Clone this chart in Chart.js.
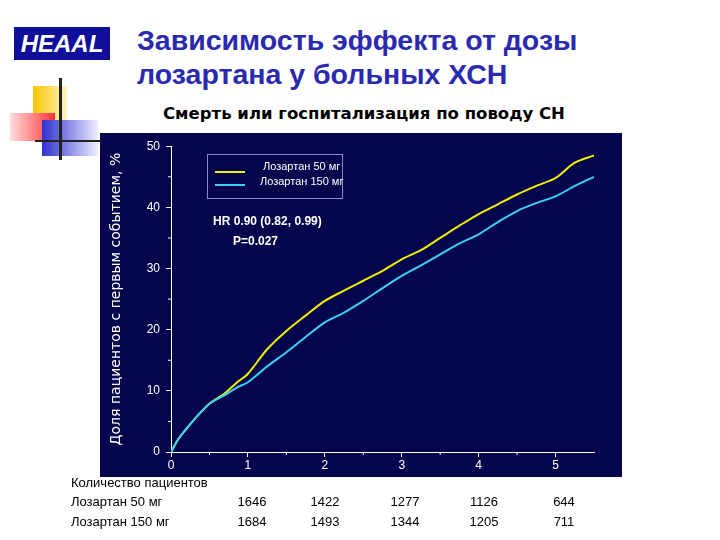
<!DOCTYPE html>
<html lang="ru">
<head>
<meta charset="UTF-8">
<title>HEAAL</title>
<script src="https://cdn.jsdelivr.net/npm/chart.js@4"></script>
<style>
  body { margin:0; width:720px; height:540px; position:relative; background:#fff; font-family:"Liberation Sans", Arial, sans-serif; overflow:hidden; }
  .abs { position:absolute; }
  #logo { left:14px; top:27px; width:96px; height:33px; background:#0f0f9a; color:#fff; font:italic bold 24px "Liberation Sans"; text-align:center; line-height:33px; }
  #title { left:137px; top:23px; color:#2a2ab0; font:bold 28.5px "Liberation Sans"; line-height:34px; }
  #sub { left:163px; top:104px; font:bold 16.5px "DejaVu Sans"; color:#000; white-space:nowrap; }
  #box { left:100px; top:133px; width:522px; height:344px; }
  .t { font-size:13px; color:#000; }
</style>
</head>
<body>
<div id="logo" class="abs">HEAAL</div>
<div id="title" class="abs">Зависимость эффекта от дозы<br>лозартана у больных ХСН</div>
<div class="abs" style="left:33px;top:86px;width:34px;height:44px;background:linear-gradient(90deg,#f7c600,#fff4c0)"></div>
<div class="abs" style="left:10px;top:113px;width:45px;height:28px;background:linear-gradient(270deg,#f33,#fdd)"></div>
<div class="abs" style="left:42px;top:120px;width:56px;height:36px;background:linear-gradient(90deg,#3030d0,#eef)"></div>
<div class="abs" style="left:59px;top:78px;width:3px;height:82px;background:#222"></div>
<div class="abs" style="left:35px;top:140px;width:65px;height:2px;background:#222"></div>
<div id="sub" class="abs">Смерть или госпитализация по поводу СН</div>
<div id="box" class="abs"><canvas id="c" width="522" height="344"></canvas></div>
<div class="abs t" style="left:71px;top:475px">Количество пациентов</div>
<div id="rows"></div>
<script>
const years = [0, 0.1, 0.2, 0.35, 0.5, 0.7, 0.85, 1.0, 1.25, 1.5, 1.75, 2.0, 2.25, 2.5, 2.75, 3.0, 3.25, 3.5, 3.75, 4.0, 4.25, 4.5, 4.75, 5.0, 5.25, 5.5];
const los50 = [0, 2.2, 3.8, 6.0, 7.9, 9.6, 11.3, 12.8, 16.8, 19.8, 22.3, 24.7, 26.4, 28.0, 29.6, 31.5, 33.0, 35.0, 37.0, 38.9, 40.5, 42.1, 43.5, 44.8, 47.3, 48.5];
const los150 = [0, 2.2, 3.8, 6.0, 7.9, 9.3, 10.5, 11.4, 14.0, 16.3, 18.8, 21.2, 22.8, 24.7, 26.8, 28.8, 30.5, 32.3, 34.1, 35.6, 37.6, 39.4, 40.7, 41.8, 43.5, 45.0];
const yTicks = [0, 10, 20, 30, 40, 50];
const nLabels = ['Лозартан 50 мг', 'Лозартан 150 мг'];
const atRisk50 = [1646, 1422, 1277, 1126, 644];
const atRisk150 = [1684, 1493, 1344, 1205, 711];
const riskCols = [252, 325, 405, 484, 564];

let html = '';
[[nLabels[0], atRisk50, 494], [nLabels[1], atRisk150, 514]].forEach(([name, vals, top]) => {
  html += `<div class="abs t" style="left:71px;top:${top}px">${name}</div>`;
  vals.forEach((v, i) => { html += `<div class="abs t" style="left:${riskCols[i]-20}px;width:40px;text-align:center;top:${top}px">${v}</div>`; });
});
document.getElementById('rows').innerHTML = html;

const navy = '#05054d';
const deco = {
  id: 'deco',
  beforeDraw(chart) {
    const c = chart.ctx;
    c.save(); c.fillStyle = navy; c.fillRect(0, 0, chart.width, chart.height); c.restore();
  },
  afterDraw(chart) {
    const c = chart.ctx, x = chart.scales.x, y = chart.scales.y;
    c.save();
    c.strokeStyle = '#fff'; c.lineWidth = 1;
    [0.5, 1.5, 2.5, 3.5, 4.5].forEach(v => { const p = x.getPixelForValue(v); c.beginPath(); c.moveTo(p, y.bottom); c.lineTo(p, y.bottom + 3); c.stroke(); });
    [5, 15, 25, 35, 45].forEach(v => { const p = y.getPixelForValue(v); c.beginPath(); c.moveTo(x.left, p); c.lineTo(x.left - 3, p); c.stroke(); });
    c.strokeStyle = '#8a8ac8'; c.strokeRect(107.5, 21.5, 135, 44);
    c.lineWidth = 2;
    c.strokeStyle = '#f0f000'; c.beginPath(); c.moveTo(115, 39); c.lineTo(145, 39); c.stroke();
    c.strokeStyle = '#38d0f8'; c.beginPath(); c.moveTo(115, 52); c.lineTo(145, 52); c.stroke();
    c.fillStyle = '#fff'; c.font = '11px "Liberation Sans"'; c.textBaseline = 'middle';
    c.fillText(nLabels[0], 163, 34); c.fillText(nLabels[1], 160, 49);
    c.font = 'bold 12px "Liberation Sans"';
    c.fillText('HR 0.90 (0.82, 0.99)', 113, 89);
    c.fillText('P=0.027', 133, 109);
    c.restore();
  }
};

new Chart(document.getElementById('c'), {
  type: 'line',
  data: {
    labels: years,
    datasets: [
      { label: nLabels[1], data: years.map((t, i) => ({ x: t, y: los150[i] })), borderColor: '#38d0f8', borderWidth: 2, pointRadius: 0, tension: 0.3 },
      { label: nLabels[0], data: years.map((t, i) => ({ x: t, y: los50[i] })), borderColor: '#f0f000', borderWidth: 2, pointRadius: 0, tension: 0.3 }
    ]
  },
  options: {
    responsive: false, animation: false,
    layout: { padding: { top: 12, right: 28, left: 8, bottom: 0 } },
    plugins: { legend: { display: false }, tooltip: { enabled: false } },
    scales: {
      x: {
        type: 'linear', min: 0, max: 5.5,
        afterFit: s => { s.height = 25; },
        afterBuildTicks: s => { s.ticks = [0, 1, 2, 3, 4, 5].map(v => ({ value: v })); },
        grid: { drawOnChartArea: false, color: '#fff', tickLength: 5 },
        border: { color: '#fff' },
        ticks: { color: '#fff', font: { size: 12, family: 'Liberation Sans' }, padding: 1 }
      },
      y: {
        min: 0, max: 50,
        afterFit: s => { s.width = 63; },
        afterBuildTicks: s => { s.ticks = yTicks.map(v => ({ value: v })); },
        grid: { drawOnChartArea: false, color: '#fff', tickLength: 5 },
        border: { color: '#fff' },
        ticks: { color: '#fff', font: { size: 12, family: 'Liberation Sans' }, padding: 6 },
        title: { display: true, text: 'Доля пациентов с первым событием, %', color: '#fff', font: { size: 14, family: 'DejaVu Sans' }, padding: 0 }
      }
    }
  },
  plugins: [deco]
});
</script>
</body>
</html>
